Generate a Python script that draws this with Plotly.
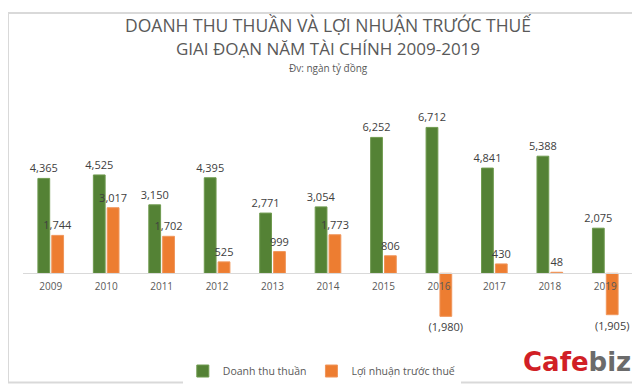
import plotly.graph_objects as go

years = ["2009", "2010", "2011", "2012", "2013", "2014", "2015", "2016", "2017", "2018", "2019"]
revenue = [4365, 4525, 3150, 4395, 2771, 3054, 6252, 6712, 4841, 5388, 2075]
profit = [1744, 3017, 1702, 525, 999, 1773, 806, -1980, 430, 48, -1905]

def fmt(v):
    s = f"{abs(v):,}"
    return f"({s})" if v < 0 else s

GREEN = "#548235"
ORANGE = "#ED7D31"
TXT = "#595959"
FONT = "Open Sans"

ymin, ymax = -2885, 7605

fig = go.Figure()
fig.add_trace(go.Bar(
    x=years, y=revenue, name="Doanh thu thuần",
    marker=dict(color=GREEN, line=dict(color="#6f9a4f", width=1)),
    text=[fmt(v) for v in revenue], textposition="outside", constraintext="none",
    textfont=dict(size=11, color="#404040", family=FONT), cliponaxis=False,
))
fig.add_trace(go.Bar(
    x=years, y=profit, name="Lợi nhuận trước thuế",
    marker=dict(color=ORANGE, line=dict(color="#f0955a", width=1)),
    text=[fmt(v) for v in profit], textposition="outside", constraintext="none",
    textfont=dict(size=11, color="#404040", family=FONT), cliponaxis=False,
))

fig.update_layout(
    width=640, height=389,
    margin=dict(l=15, r=15, t=100, b=49),
    paper_bgcolor="white", plot_bgcolor="white",
    barmode="group", bargap=0.5, bargroupgap=0.15,
    font=dict(family=FONT, color=TXT),
    showlegend=True,
    legend=dict(orientation="h", x=0.262, xanchor="left", y=-0.09, yanchor="top",
                font=dict(size=10.5, color=TXT, family=FONT), itemwidth=30,
                traceorder="normal"),
    xaxis=dict(anchor="free", position=(0 - ymin) / (ymax - ymin),
               showline=True, linecolor="#d9d9d9", linewidth=1,
               ticks="", showgrid=False, ticklabelstandoff=4,
               tickfont=dict(size=10, color=TXT, family=FONT)),
    yaxis=dict(range=[ymin, ymax], visible=False, showgrid=False, zeroline=False),
    annotations=[
        dict(text="DOANH THU THUẦN VÀ LỢI NHUẬN TRƯỚC THUẾ", xref="paper", yref="paper",
             x=0.5, y=1, yshift=83, xanchor="center", yanchor="middle", showarrow=False,
             font=dict(size=17.5, color=TXT, family=FONT)),
        dict(text="GIAI ĐOẠN NĂM TÀI CHÍNH 2009-2019", xref="paper", yref="paper",
             x=0.5, y=1, yshift=60, xanchor="center", yanchor="middle", showarrow=False,
             font=dict(size=17, color=TXT, family=FONT)),
        dict(text="Đv: ngàn tỷ đồng", xref="paper", yref="paper",
             x=0.5, y=1, yshift=40, xanchor="center", yanchor="middle", showarrow=False,
             font=dict(size=10, color=TXT, family=FONT)),
        dict(text="<b><span style='color:#d11f26'>Cafe</span><span style='color:#6b6b6b'>biz</span></b>",
             xref="paper", yref="paper", x=1.0, y=0, yshift=-26, xanchor="right", yanchor="middle",
             showarrow=False, font=dict(size=26, family="DejaVu Sans")),
    ],
    shapes=[dict(type="rect", xref="paper", yref="paper",
                 x0=-15/610, x1=1+15/610, y0=-49/240, y1=1+100/240,
                 line=dict(color="#d9d9d9", width=2), fillcolor="rgba(0,0,0,0)")],
)

fig.write_html("out.html")
